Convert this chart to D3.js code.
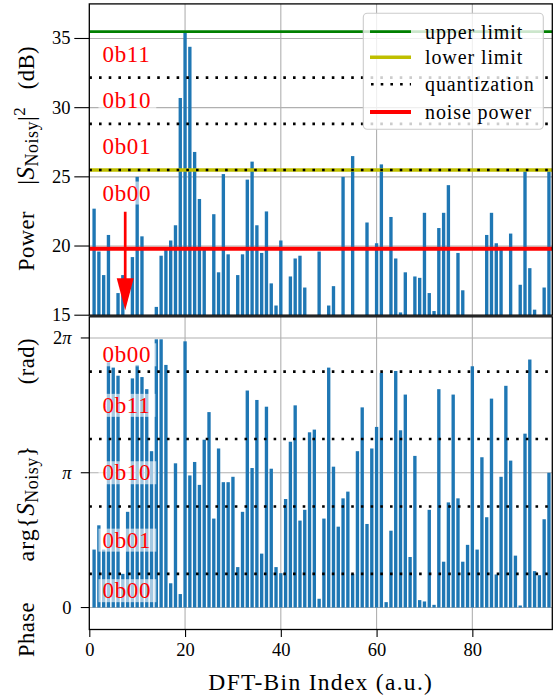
<!DOCTYPE html>
<html>
<head>
<meta charset="utf-8">
<script src="https://cdn.jsdelivr.net/npm/d3@7/dist/d3.min.js"></script>
<style>
  body { margin: 0; background: #fff; }
  svg text { font-family: "Liberation Serif", "DejaVu Serif", serif !important; }
</style>
</head>
<body>
<svg id="chart" width="559" height="697" font-family="Liberation Serif, DejaVu Serif, serif"></svg>
<script>
// ---- data -------------------------------------------------------------
const binIndex = d3.range(1, 97);

// |S_Noisy|^2 in dB per DFT bin (null = below the 15 dB floor of the view)
const powerDb = [
  22.7, 19.6, 17.9, 20.8, null, 16.6, 17.9, null, 19.2, 25.0,
  20.7, null, null, 15.6, 19.3, 19.8, 20.4, 21.5, 30.7, 35.4,
  34.4, 26.8, 23.4, 19.8, null, 22.3, 18.1, 25.2, 19.4, null,
  17.9, 19.4, 24.8, 26.1, 21.5, 19.5, 22.5, 17.3, 15.7, 20.4,
  null, 17.8, 19.1, 19.3, 17.0, null, null, 19.6, null, 15.7,
  17.1, null, 25.0, null, 26.5, null, null, 21.7, null, 20.2,
  25.9, null, 22.1, 19.1, 15.2, 18.1, null, 17.8, 17.7, 22.4,
  16.6, 15.3, 21.3, 22.4, 24.4, null, 19.5, 16.8, null, null,
  null, null, 20.8, 22.4, 20.2, 19.8, null, 20.9, null, 17.2,
  25.4, 18.4, 15.4, null, 17.0, 25.4
];

// arg{S_Noisy} per DFT bin, in multiples of pi
const phaseOverPi = [
  0.43, 0.61, 0.43, 1.82, 1.78, 1.72, 0.25, 0.71, 1.70, 1.80,
  1.71, 1.62, 1.16, 1.99, 1.99, 1.80, 0.18, 1.07, 0.10, 1.975,
  0.98, 1.08, 0.91, 1.245, 1.45, 0.66, 1.18, 0.93, 0.93, 0.97,
  0.30, 0.71, 1.61, 1.035, 1.54, 0.40, 1.49, 1.03, 0.30, 0.255,
  0.805, 1.23, 1.50, 0.645, 0.725, 1.30, 1.32, 0.065, 0.66, 1.78,
  1.045, 0.60, 0.81, 0.86, 0.25, 1.16, 1.485, 0.62, 1.18, 1.34,
  1.74, 0.04, 0.57, 1.755, 1.315, 1.58, 0.375, 1.125, 0.055, 0.045,
  0.725, 0.02, 1.62, 0.34, 0.78, 1.58, 0.81, 0.34, 0.465, 1.79,
  0.43, 1.115, 0.67, 1.55, 0.245, 0.97, 1.645, 1.09, 0.385, 0.015,
  1.29, 1.84, 0.27, 0.24, 0.655, 1.0
];

const xTicks = [0, 20, 40, 60, 80];
const powerTicks = [15, 20, 25, 30, 35];
const phaseTicksOverPi = [0, 1, 2];
const phaseTickLabels = [["0", ""], ["", "π"], ["2", "π"]];

const upperLimitDb = 35.5;
const lowerLimitDb = 25.5;
const noisePowerDb = 19.8;
const powerQuantLevels = [25.5, 28.83, 32.17];
const powerCodeLabels = ["0b00", "0b01", "0b10", "0b11"];
const powerCodeCenters = [23.83, 27.17, 30.5, 33.83];

const phaseQuantLevelsOverPi = [0.25, 0.75, 1.25, 1.75];
const phaseCodeLabels = ["0b00", "0b01", "0b10", "0b11", "0b00"];
const phaseCodeCentersOverPi = [0.125, 0.5, 1.0, 1.5, 1.875];

const legendLabels = ["upper limit", "lower limit", "quantization", "noise power"];

// arrow pointing at the weakest code region
const arrowBin = 7.5, arrowFromDb = 22.47, arrowToDb = 15.36;

// ---- styling ----------------------------------------------------------
const FONT = "'Liberation Serif', 'DejaVu Serif', serif";
const barColor = "#1f77b4";
const gridColor = "#b0b0b0";
const green = "#008000", yellow = "#bfbf00", red = "#ff0000";
const dotted = { width: 2.6, dash: "2.6,7.1" };

// ---- layout & scales ---------------------------------------------------
const svg = d3.select("#chart");
const left = 89.3, right = 552.3;
const topPanel = { top: 3.9, bottom: 315.2 };
const botPanel = { top: 316.8, bottom: 629.5 };

const x = d3.scaleLinear().domain([0, 96.7]).range([left, right]);
const yPow = d3.scaleLinear().domain([15, 37.5]).range([topPanel.bottom, topPanel.top]);
const yPh = d3.scaleLinear().domain([-0.163 * Math.PI, 2.157 * Math.PI]).range([botPanel.bottom, botPanel.top]);
const barW = x(0.7) - x(0);

function txt(g) {
  return g.append("text").attr("font-family", FONT).style("font-family", FONT).attr("fill", "#000");
}

const defs = svg.append("defs");
defs.append("clipPath").attr("id", "clipTop").append("rect")
  .attr("x", left).attr("y", topPanel.top).attr("width", right - left).attr("height", topPanel.bottom - topPanel.top);
defs.append("clipPath").attr("id", "clipBot").append("rect")
  .attr("x", left).attr("y", botPanel.top).attr("width", right - left).attr("height", botPanel.bottom - botPanel.top);

function hLine(g, y, color, width, dash) {
  const l = g.append("line").attr("x1", left).attr("x2", right).attr("y1", y).attr("y2", y)
    .attr("stroke", color).attr("stroke-width", width);
  if (dash) l.attr("stroke-dasharray", dash);
  return l;
}

function codeLabel(g, text, yc) {
  const t = txt(g).attr("x", x(2.75)).attr("y", yc)
    .attr("dominant-baseline", "central")
    .style("font-size", "23px").style("letter-spacing", "0.7px")
    .attr("fill", red).text(text);
  const bb = t.node().getBBox();
  g.insert("rect", () => t.node())
    .attr("x", bb.x - 4).attr("y", yc - 11.5).attr("width", bb.width + 9).attr("height", 23)
    .attr("fill", "#fff").attr("fill-opacity", 0.6);
}

// rotated axis title laid out from its lower end; weighted gaps stretch it to the given length
function yTitle(g, xBase, yLow, length, build) {
  const t = txt(g).attr("transform", `translate(${xBase},${yLow}) rotate(-90)`)
    .style("font-size", "22.5px").style("letter-spacing", "0.5px");
  const gaps = build(t);
  const natural = t.node().getBBox().width;
  const extra = Math.max(0, length - natural);
  gaps.forEach(([sp, w]) => sp.attr("dx", extra * w));
}

// ---- top panel: power --------------------------------------------------
const gTop = svg.append("g");
const gTopC = gTop.append("g").attr("clip-path", "url(#clipTop)");

xTicks.forEach(v => gTopC.append("line").attr("x1", x(v)).attr("x2", x(v))
  .attr("y1", topPanel.top).attr("y2", topPanel.bottom).attr("stroke", gridColor).attr("stroke-width", 1.1));
powerTicks.forEach(v => hLine(gTopC, yPow(v), gridColor, 1.1));

gTopC.selectAll("rect.bar").data(binIndex.filter((k, i) => powerDb[i] !== null)).join("rect")
  .attr("class", "bar")
  .attr("x", k => x(k) - barW / 2).attr("width", barW)
  .attr("y", k => yPow(powerDb[k - 1]))
  .attr("height", k => yPow(15) - yPow(powerDb[k - 1]))
  .attr("fill", barColor);

hLine(gTopC, yPow(lowerLimitDb), yellow, 3.4);
powerQuantLevels.forEach(v => hLine(gTopC, yPow(v), "#000", dotted.width, dotted.dash));
hLine(gTopC, yPow(upperLimitDb), green, 2.8);
hLine(gTopC, yPow(noisePowerDb), red, 4);

powerCodeLabels.forEach((s, i) => codeLabel(gTopC, s, yPow(powerCodeCenters[i])));

// arrow
const ax = x(arrowBin);
const headLen = 32, headHalf = 8.5;
gTopC.append("line").attr("x1", ax).attr("x2", ax)
  .attr("y1", yPow(arrowFromDb)).attr("y2", yPow(arrowToDb) - headLen + 2)
  .attr("stroke", red).attr("stroke-width", 2.7);
gTopC.append("path")
  .attr("d", `M${ax - headHalf},${yPow(arrowToDb) - headLen} L${ax + headHalf},${yPow(arrowToDb) - headLen} L${ax},${yPow(arrowToDb)} Z`)
  .attr("fill", red);

// legend
const lg = gTop.append("g");
lg.append("rect").attr("x", 363.3).attr("y", 13.3).attr("width", 180).attr("height", 116)
  .attr("rx", 4).attr("fill", "#fff").attr("fill-opacity", 0.8)
  .attr("stroke", "#cccccc").attr("stroke-width", 1.1);
const legendStyles = [
  { color: green, width: 2.8 },
  { color: yellow, width: 3.4 },
  { color: "#000", width: dotted.width, dash: dotted.dash },
  { color: red, width: 4 }
];
const legendY = [31.7, 57.2, 84.3, 112];
legendLabels.forEach((s, i) => {
  const st = legendStyles[i];
  const l = lg.append("line").attr("x1", 370).attr("x2", 411)
    .attr("y1", legendY[i]).attr("y2", legendY[i])
    .attr("stroke", st.color).attr("stroke-width", st.width);
  if (st.dash) l.attr("stroke-dasharray", st.dash).attr("stroke-dashoffset", -1);
  txt(lg).attr("x", 425).attr("y", legendY[i]).attr("dominant-baseline", "central")
    .style("font-size", "20px").style("letter-spacing", "0.9px").text(s);
});

// frame & y axis
gTop.append("rect").attr("x", left).attr("y", topPanel.top).attr("width", right - left)
  .attr("height", topPanel.bottom - topPanel.top).attr("fill", "none").attr("stroke", "#000").attr("stroke-width", 1.3);
powerTicks.forEach(v => {
  gTop.append("line").attr("x1", left - 15).attr("x2", left).attr("y1", yPow(v)).attr("y2", yPow(v))
    .attr("stroke", "#000").attr("stroke-width", 1.1);
  txt(gTop).attr("x", 70.5).attr("y", yPow(v)).attr("text-anchor", "end")
    .attr("dominant-baseline", "central").style("font-size", "18.5px").text(v);
});

yTitle(gTop, 33.5, 271, 225, t => {
  t.append("tspan").text("Power");
  const g1 = t.append("tspan").style("font-size", "24px").text("|");
  t.append("tspan").style("font-style", "italic").style("font-size", "25px").text("S");
  t.append("tspan").style("font-size", "18px").attr("dy", 4).text("Noisy");
  t.append("tspan").style("font-size", "24px").attr("dy", -4).text("|");
  t.append("tspan").style("font-size", "17px").attr("dy", -9).text("2");
  const g2 = t.append("tspan").attr("dy", 9).text("(dB)");
  return [[g1, 0.6], [g2, 0.4]];
});

// ---- bottom panel: phase -----------------------------------------------
const gBot = svg.append("g");
const gBotC = gBot.append("g").attr("clip-path", "url(#clipBot)");

xTicks.forEach(v => gBotC.append("line").attr("x1", x(v)).attr("x2", x(v))
  .attr("y1", botPanel.top).attr("y2", botPanel.bottom).attr("stroke", gridColor).attr("stroke-width", 1.1));
phaseTicksOverPi.forEach(v => hLine(gBotC, yPh(v * Math.PI), gridColor, 1.1));

gBotC.selectAll("rect.bar").data(binIndex).join("rect")
  .attr("class", "bar")
  .attr("x", k => x(k) - barW / 2).attr("width", barW)
  .attr("y", k => yPh(phaseOverPi[k - 1] * Math.PI))
  .attr("height", k => yPh(0) - yPh(phaseOverPi[k - 1] * Math.PI))
  .attr("fill", barColor);

phaseQuantLevelsOverPi.forEach(v => hLine(gBotC, yPh(v * Math.PI), "#000", dotted.width, dotted.dash));
phaseCodeLabels.forEach((s, i) => codeLabel(gBotC, s, yPh(phaseCodeCentersOverPi[i] * Math.PI)));

gBot.append("rect").attr("x", left).attr("y", botPanel.top).attr("width", right - left)
  .attr("height", botPanel.bottom - botPanel.top).attr("fill", "none").attr("stroke", "#000").attr("stroke-width", 1.3);

phaseTicksOverPi.forEach((v, i) => {
  const yy = yPh(v * Math.PI);
  gBot.append("line").attr("x1", left - 8.5).attr("x2", left).attr("y1", yy).attr("y2", yy)
    .attr("stroke", "#000").attr("stroke-width", 1.1);
  const t = txt(gBot).attr("x", 71.5).attr("y", yy).attr("text-anchor", "end")
    .attr("dominant-baseline", "central").style("font-size", "18.5px");
  t.append("tspan").text(phaseTickLabels[i][0]);
  t.append("tspan").style("font-style", "italic").text(phaseTickLabels[i][1]);
});

// x axis
const xAxis = d3.axisBottom(x).tickValues(xTicks).tickSize(7.5).tickPadding(6).tickFormat(d3.format("d"));
const gx = gBot.append("g").attr("transform", `translate(0,${botPanel.bottom})`).call(xAxis)
  .attr("font-family", FONT);
gx.select(".domain").remove();
gx.selectAll("line").attr("stroke", "#000").attr("stroke-width", 1.1);
gx.selectAll("text").attr("fill", "#000").style("font-size", "18.5px").style("font-family", FONT);

txt(svg).attr("x", (left + right) / 2).attr("y", 690).attr("text-anchor", "middle")
  .style("font-size", "23.5px").style("letter-spacing", "1.3px").text("DFT-Bin Index (a.u.)");

yTitle(gBot, 33.5, 657, 319, t => {
  t.append("tspan").text("Phase");
  const g1 = t.append("tspan").style("font-size", "24px").style("letter-spacing", "1px").text("arg{");
  t.append("tspan").style("font-style", "italic").style("font-size", "25px").text("S");
  t.append("tspan").style("font-size", "18px").attr("dy", 4).text("Noisy");
  t.append("tspan").style("font-size", "24px").attr("dy", -4).text("}");
  const g2 = t.append("tspan").text("(rad)");
  return [[g1, 0.4], [g2, 0.6]];
});
</script>
</body>
</html>
